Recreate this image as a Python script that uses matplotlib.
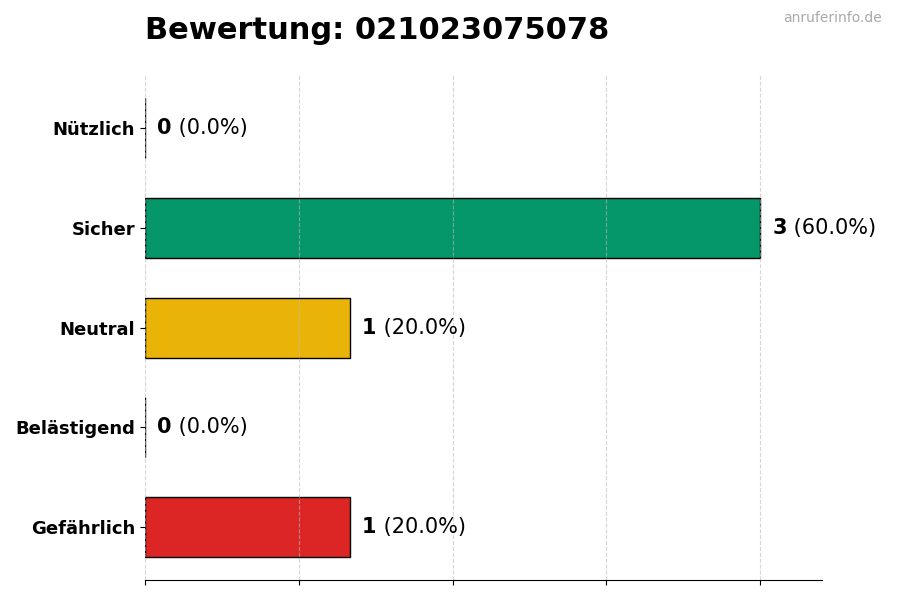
import matplotlib
matplotlib.use("Agg")
import matplotlib.pyplot as plt

categories = ["Nützlich", "Sicher", "Neutral", "Belästigend", "Gefährlich"]
counts = [0, 3, 1, 0, 1]
colors = ["#16a34a", "#059669", "#EAB308", "#f97316", "#DC2626"]
number = "021023075078"

total = sum(counts)

fig, ax = plt.subplots(figsize=(9, 6), dpi=100)
fig.subplots_adjust(left=0.161, right=0.913, top=0.875, bottom=0.033)

ypos = list(range(len(categories)))[::-1]
ax.barh(ypos, counts, height=0.6, color=colors, edgecolor="black",
        linewidth=1, zorder=2)

xmax = max(counts) * 1.1
ax.set_xlim(0, xmax)
ax.set_xticks([max(counts) * f for f in (0, 0.25, 0.5, 0.75, 1.0)])
ax.set_xticklabels([])
# grid sits over the bars, faint
ax.grid(axis="x", linestyle="--", color="#bbbbbb", linewidth=0.8,
        alpha=0.6, zorder=3)
ax.set_axisbelow(False)

ax.set_yticks(ypos)
ax.set_yticklabels(categories, fontsize=13, fontweight="bold")

for s in ("top", "right", "left"):
    ax.spines[s].set_visible(False)

off = xmax * 0.018
for y, c in zip(ypos, counts):
    pct = c / total * 100 if total else 0
    t = ax.text(c + off, y, f"{c}", fontsize=15, fontweight="bold",
                va="center", ha="left")
    ax.annotate(f" ({pct:.1f}%)", xycoords=t, xy=(1, 0.5), va="center",
                ha="left", fontsize=15)

ax.set_title(f"Bewertung: {number}", fontsize=22, fontweight="bold",
             loc="left", pad=26)
fig.text(0.98, 0.97, "anruferinfo.de", ha="right", va="center",
         fontsize=10, color="#aaaaaa")

fig.savefig("out.png", facecolor="white")
